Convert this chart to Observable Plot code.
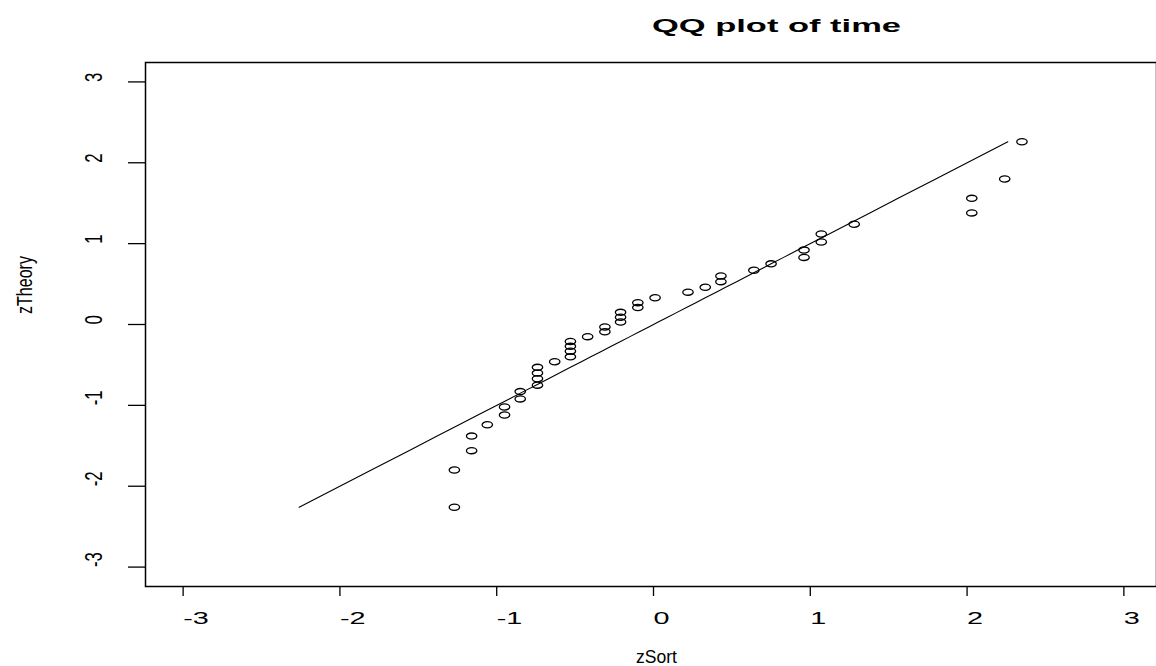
<!DOCTYPE html>
<html><head><meta charset="utf-8">
<script src="https://cdn.jsdelivr.net/npm/d3@7"></script>
<script src="https://cdn.jsdelivr.net/npm/@observablehq/plot@0.6"></script>
<style>
html,body{margin:0;padding:0;background:#fff;overflow:hidden;}
#chart{position:relative;width:1156px;height:666px;overflow:hidden;}
</style></head><body><div id="chart"></div>
<script>
// Sorted standardized observations (x) and theoretical normal quantiles (y)
const zSort = [-1.27, -1.27, -1.16, -1.16, -1.06, -0.95, -0.95, -0.85, -0.85, -0.74,
  -0.74, -0.74, -0.74, -0.63, -0.53, -0.53, -0.53, -0.53, -0.42, -0.31,
  -0.31, -0.21, -0.21, -0.21, -0.10, -0.10, 0.01, 0.22, 0.33, 0.43,
  0.43, 0.64, 0.75, 0.96, 0.96, 1.07, 1.07, 1.28, 2.03, 2.03,
  2.24, 2.35];
const zTheory = [-2.26, -1.80, -1.56, -1.38, -1.24, -1.12, -1.02, -0.92, -0.83, -0.75,
  -0.67, -0.60, -0.53, -0.46, -0.40, -0.33, -0.27, -0.21, -0.15, -0.09,
  -0.03, 0.03, 0.09, 0.15, 0.21, 0.27, 0.33, 0.40, 0.46, 0.53,
  0.60, 0.67, 0.75, 0.83, 0.92, 1.02, 1.12, 1.24, 1.38, 1.56,
  1.80, 2.26];
const xTicks = [-3, -2, -1, 0, 1, 2, 3];
const yTicks = [-3, -2, -1, 0, 1, 2, 3];
const titleText = "QQ plot of time";
const xLabel = "zSort";
const yLabel = "zTheory";

const points = zSort.map((x, i) => ({x, y: zTheory[i]}));

// open ellipse symbol (R's pch=1 looks stretched horizontally in the reference)
const ellipse = {
  draw(context) {
    const rx = 5.2, ry = 3.1, k = 0.5523;
    context.moveTo(rx, 0);
    context.bezierCurveTo(rx, ry * k, rx * k, ry, 0, ry);
    context.bezierCurveTo(-rx * k, ry, -rx, ry * k, -rx, 0);
    context.bezierCurveTo(-rx, -ry * k, -rx * k, -ry, 0, -ry);
    context.bezierCurveTo(rx * k, -ry, rx, -ry * k, rx, 0);
    context.closePath();
  }
};

const font = "'Liberation Sans', Arial, Helvetica, sans-serif";

const chart = Plot.plot({
  width: 1156,
  height: 666,
  marginLeft: 145, marginRight: 0, marginTop: 62, marginBottom: 80,
  x: {domain: [-3.24, 3.24], range: [145, 1161]},
  y: {domain: [-3.24, 3.24], range: [586, 62]},
  style: {fontFamily: font, background: "white", color: "black", overflow: "hidden"},
  marks: [
    Plot.frame({stroke: "black", strokeWidth: 1.5}),
    Plot.axisX({ticks: xTicks, tickSize: 10, tickPadding: 15.7, textAnchor: "start", lineAnchor: "top",
      fontSize: 16, label: null, tickFormat: d => String(d), stroke: "black", strokeWidth: 1.3}),
    Plot.axisY({ticks: yTicks, tickSize: 17, tickPadding: 34, tickRotate: -90, textAnchor: "start", lineAnchor: "middle",
      fontSize: 24, label: null, tickFormat: d => String(d), stroke: "black", strokeWidth: 1.3}),
    Plot.line(zTheory, {x: d => d, y: d => d, stroke: "black", strokeWidth: 1.1}),
    Plot.dot(points, {x: "x", y: "y", symbol: ellipse, stroke: "black", strokeWidth: 1.3, fill: "none"})
  ]
});

document.getElementById("chart").appendChild(chart);
const svg = d3.select(chart);

// stretch x tick labels horizontally like the reference
svg.selectAll('g[aria-label="x-axis tick label"] text').each(function() {
  const len = this.getComputedTextLength();
  this.setAttribute("textLength", len * 1.8);
  this.setAttribute("lengthAdjust", "spacingAndGlyphs");
});
// y tick labels: tall glyphs, compressed along the text direction
svg.selectAll('g[aria-label="y-axis tick label"] text').each(function() {
  const len = this.getComputedTextLength();
  this.setAttribute("textLength", len * 0.7);
  this.setAttribute("lengthAdjust", "spacingAndGlyphs");
});

// title
svg.append("text")
  .attr("x", 652).attr("y", 32)
  .attr("font-family", font).attr("font-weight", "bold").attr("font-size", 19)
  .attr("fill", "black").attr("text-anchor", "start")
  .attr("textLength", 249).attr("lengthAdjust", "spacingAndGlyphs")
  .text(titleText);

// x label
svg.append("text")
  .attr("x", 636).attr("y", 663)
  .attr("font-family", font).attr("font-size", 19)
  .attr("fill", "black").attr("text-anchor", "start")
  .attr("textLength", 41).attr("lengthAdjust", "spacingAndGlyphs")
  .text(xLabel);

// y label
svg.append("text")
  .attr("transform", "translate(32,285) rotate(-90)")
  .attr("font-family", font).attr("font-size", 22)
  .attr("fill", "black").attr("text-anchor", "middle")
  .attr("textLength", 58).attr("lengthAdjust", "spacingAndGlyphs")
  .text(yLabel);
</script>
</body></html>
